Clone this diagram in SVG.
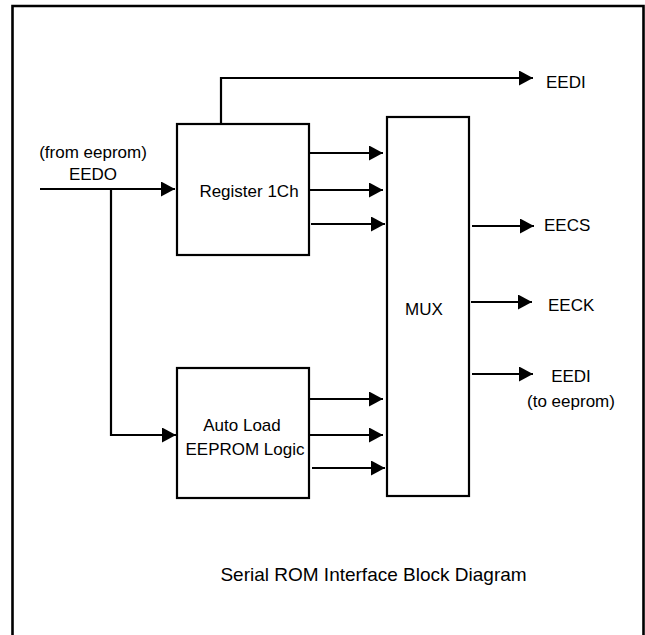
<svg xmlns="http://www.w3.org/2000/svg" width="645" height="635" viewBox="0 0 645 635">
<style>
.box{fill:#fff;stroke:#000;stroke-width:2.2}
.ln{fill:none;stroke:#000;stroke-width:2.2}
.t{font-family:"Liberation Sans",Arial,Helvetica,sans-serif;font-size:17px;fill:#000}
.m{text-anchor:middle}
</style>
<defs>
<marker id="ah" markerUnits="userSpaceOnUse" markerWidth="15" markerHeight="15" refX="14" refY="7.5" orient="auto">
<path d="M0,0 L14,7.5 L0,15 z" fill="#000"/>
</marker>
</defs>
<rect x="0" y="0" width="645" height="635" fill="#fff"/>
<path d="M12.5,640 V6 H643.5 V640" fill="none" stroke="#000" stroke-width="2.6"/>
<g id="connectors">
<path class="ln" d="M221,124 V78 H533" marker-end="url(#ah)"/>
<path class="ln" d="M40,189 H175" marker-end="url(#ah)"/>
<path class="ln" d="M111,189 V435 H176" marker-end="url(#ah)"/>
<path class="ln" d="M309,153 H383" marker-end="url(#ah)"/>
<path class="ln" d="M309,190 H383" marker-end="url(#ah)"/>
<path class="ln" d="M311,224 H385" marker-end="url(#ah)"/>
<path class="ln" d="M309,399 H383" marker-end="url(#ah)"/>
<path class="ln" d="M309,435 H383" marker-end="url(#ah)"/>
<path class="ln" d="M312,468 H385" marker-end="url(#ah)"/>
<path class="ln" d="M472,226 H534" marker-end="url(#ah)"/>
<path class="ln" d="M471,302 H532" marker-end="url(#ah)"/>
<path class="ln" d="M472,374 H533" marker-end="url(#ah)"/>
</g>
<g id="register">
<rect class="box" x="177" y="124" width="132" height="131"/>
<text class="t m" x="249" y="197">Register 1Ch</text>
</g>
<g id="autoload">
<rect class="box" x="177" y="368" width="132" height="130"/>
<text class="t m" x="242" y="431">Auto Load</text>
<text class="t m" x="245" y="455">EEPROM Logic</text>
</g>
<g id="mux">
<rect class="box" x="387" y="117" width="82" height="379"/>
<text class="t m" x="424" y="315">MUX</text>
</g>
<g id="eedo">
<text class="t m" x="93" y="158">(from eeprom)</text>
<text class="t m" x="93" y="180">EEDO</text>
</g>
<g id="eedi-top"><text class="t" x="546" y="88">EEDI</text></g>
<g id="eecs"><text class="t" x="544" y="231">EECS</text></g>
<g id="eeck"><text class="t" x="548" y="311">EECK</text></g>
<g id="eedi-out">
<text class="t m" x="571" y="382">EEDI</text>
<text class="t m" x="571" y="407">(to eeprom)</text>
</g>
<text class="t m" x="373.5" y="581" style="font-size:19px">Serial ROM Interface Block Diagram</text>
</svg>
